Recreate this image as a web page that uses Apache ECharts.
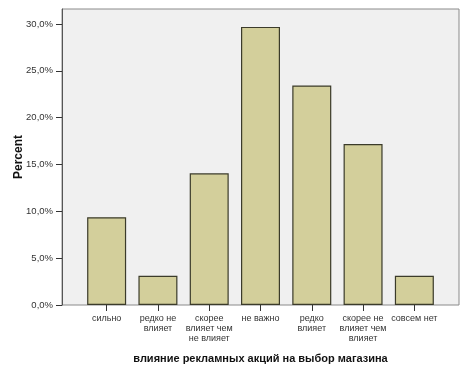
<!DOCTYPE html>
<html lang="ru">
<head>
    <meta charset="UTF-8">
    <title>Percent</title>
    <script src="https://cdn.jsdelivr.net/npm/echarts@6/dist/echarts.min.js"></script>
    <style>
        html, body { margin: 0; padding: 0; background: #ffffff; }
        #chart { width: 468px; height: 375px; }
    </style>
</head>
<body>
    <div id="chart"></div>
    <script>
        // категории и значения (проценты)
        var categories = ['сильно', 'редко не\nвлияет', 'скорее\nвлияет чем\nне влияет', 'не важно', 'редко\nвлияет', 'скорее не\nвлияет чем\nвлияет', 'совсем нет'];
        var percents = [9.375, 3.125, 14.0625, 29.6875, 23.4375, 17.1875, 3.125];
        var yTicks = [0, 5, 10, 15, 20, 25, 30];

        var yMax = 31.6;
        var chart = echarts.init(document.getElementById('chart'));

        var option = {
            animation: false,
            textStyle: { fontFamily: 'Liberation Sans, Arial, sans-serif' },
            grid: [
                // рамка области графика
                { left: 62, right: 9, top: 9, bottom: 70, outerBoundsMode: 'none', show: true, backgroundColor: '#f0f0f0', borderColor: '#8a8a8a', borderWidth: 1 },
                // внутренняя область для столбцов
                { left: 81, right: 28, top: 9, bottom: 70, outerBoundsMode: 'none' }
            ],
            xAxis: [
                { gridIndex: 0, type: 'value', min: 0, max: 1, show: false },
                {
                    gridIndex: 1,
                    type: 'category',
                    data: categories,
                    name: 'влияние рекламных акций на выбор магазина',
                    nameLocation: 'middle',
                    nameGap: 48,
                    nameMoveOverlap: false,
                    nameTextStyle: { fontSize: 11, fontWeight: 'bold', color: '#111' },
                    axisLine: { show: false },
                    axisTick: { show: true, alignWithLabel: true, length: 6, lineStyle: { color: '#333' } },
                    axisLabel: { fontSize: 9, color: '#333', lineHeight: 10, interval: 0, margin: 9 }
                }
            ],
            yAxis: [
                {
                    gridIndex: 0,
                    type: 'value',
                    min: 0,
                    max: yMax,
                    interval: 5,
                    name: 'Percent',
                    nameLocation: 'middle',
                    nameGap: 37,
                    nameMoveOverlap: false,
                    nameTextStyle: { fontSize: 12, fontWeight: 'bold', color: '#111' },
                    axisLine: { show: true, lineStyle: { color: '#555' } },
                    axisTick: { show: true, length: 6, lineStyle: { color: '#333' } },
                    splitLine: { show: false },
                    axisLabel: {
                        fontSize: 9.5,
                        color: '#333',
                        margin: 9,
                        showMaxLabel: false,
                        formatter: function (v) {
                            if (yTicks.indexOf(v) < 0) return '';
                            return v.toFixed(1).replace('.', ',') + '%';
                        }
                    }
                },
                { gridIndex: 1, type: 'value', min: 0, max: yMax, show: false }
            ],
            series: [
                {
                    type: 'bar',
                    xAxisIndex: 1,
                    yAxisIndex: 1,
                    data: percents,
                    barWidth: 39,
                    itemStyle: { color: '#d3cf9b', borderColor: '#3b3b2a', borderWidth: 1.2 }
                }
            ]
        };

        chart.setOption(option);
    </script>
</body>
</html>
